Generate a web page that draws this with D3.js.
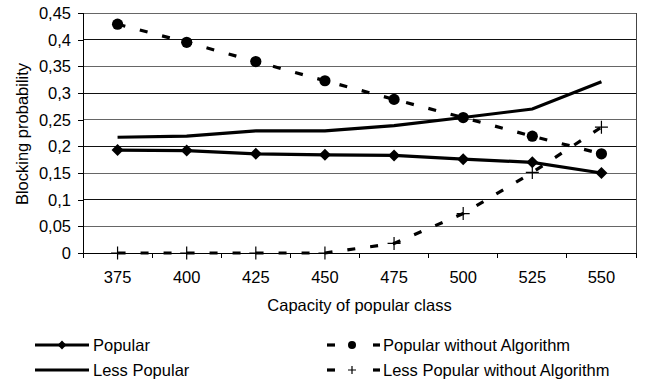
<!DOCTYPE html>
<html>
<head>
<meta charset="utf-8">
<script src="https://cdn.jsdelivr.net/npm/d3@7"></script>
<style>
  body { margin: 0; background: #fff; }
  svg { display: block; }
  text { font-family: "Liberation Sans", Arial, sans-serif; font-size: 16.5px; fill: #000; }
</style>
</head>
<body>
<svg id="chart" width="645" height="385"></svg>
<script>
// Capacity of the popular class
const capacities = [375, 400, 425, 450, 475, 500, 525, 550];

// Blocking probability per series
const popular = [0.193, 0.192, 0.186, 0.184, 0.183, 0.176, 0.170, 0.150];
const lessPopular = [0.217, 0.219, 0.229, 0.229, 0.239, 0.254, 0.270, 0.321];
const popularNoAlg = [0.429, 0.395, 0.359, 0.323, 0.288, 0.254, 0.219, 0.186];
const lessPopularNoAlg = [0, 0, 0, 0, 0.018, 0.074, 0.151, 0.236];

const yTicks = [0, 0.05, 0.1, 0.15, 0.2, 0.25, 0.3, 0.35, 0.4, 0.45];

const series = [
  { name: "Popular", values: popular, dashed: false, marker: "diamond" },
  { name: "Less Popular", values: lessPopular, dashed: false, marker: null },
  { name: "Popular without Algorithm", values: popularNoAlg, dashed: true, marker: "circle" },
  { name: "Less Popular without Algorithm", values: lessPopularNoAlg, dashed: true, marker: "plus" }
];

const svg = d3.select("#chart");
const m = { left: 83, right: 636, top: 13, bottom: 253 };

const x = d3.scaleBand().domain(capacities).range([m.left, m.right]);
const y = d3.scaleLinear().domain([0, 0.45]).range([m.bottom, m.top]);
const fmt = v => String(+v.toFixed(2)).replace(".", ",");

// Horizontal gridlines
svg.append("g").selectAll("line").data(yTicks.filter(d => d > 0)).join("line")
  .attr("x1", m.left).attr("x2", m.right)
  .attr("y1", d => y(d)).attr("y2", d => y(d))
  .attr("stroke", (d, i) => i % 2 ? "#111" : "#666").attr("stroke-width", 1)
  .attr("shape-rendering", "crispEdges");

// Right frame
svg.append("line").attr("x1", m.right).attr("x2", m.right)
  .attr("y1", m.top).attr("y2", m.bottom)
  .attr("stroke", "#444").attr("shape-rendering", "crispEdges");

// Y axis
const yAxis = svg.append("g").attr("transform", `translate(${m.left},0)`)
  .call(d3.axisLeft(y).tickValues(yTicks).tickFormat(fmt).tickSize(5).tickPadding(7));
yAxis.select(".domain").remove();
yAxis.append("line").attr("x1", 0).attr("x2", 0).attr("y1", m.top).attr("y2", m.bottom);
yAxis.selectAll("line").attr("stroke", "#000").attr("shape-rendering", "crispEdges");
yAxis.selectAll("text").attr("font-size", 16.5).attr("font-family", "Liberation Sans, Arial, sans-serif")
  .attr("dy", "0.34em");

// X axis with ticks between categories
const xAxis = svg.append("g").attr("transform", `translate(0,${m.bottom})`);
xAxis.append("line").attr("x1", m.left - 5).attr("x2", m.right)
  .attr("y1", 0).attr("y2", 0).attr("stroke", "#000").attr("shape-rendering", "crispEdges");
const bounds = capacities.map(c => x(c)).concat([m.right]);
xAxis.selectAll("line.tk").data(bounds).join("line").attr("class", "tk")
  .attr("x1", d => d).attr("x2", d => d).attr("y1", 0).attr("y2", 5)
  .attr("stroke", "#000").attr("shape-rendering", "crispEdges");
xAxis.selectAll("text").data(capacities).join("text")
  .attr("x", d => x(d) + x.bandwidth() / 2).attr("y", 29.5)
  .attr("text-anchor", "middle").text(d => d);

// Axis titles
svg.append("text").attr("x", (m.left + m.right) / 2).attr("y", 311)
  .attr("text-anchor", "middle").text("Capacity of popular class");
svg.append("text").attr("transform", `translate(27.5,${(m.top + m.bottom) / 2 + 1}) rotate(-90)`)
  .attr("text-anchor", "middle").text("Blocking probability");

const cx = c => x(c) + x.bandwidth() / 2;
const line = d3.line().x((d, i) => cx(capacities[i])).y(d => y(d));

function drawMarker(g, type, px, py, s) {
  if (type === "diamond") {
    g.append("path").attr("d", `M${px},${py - s}L${px + s},${py}L${px},${py + s}L${px - s},${py}Z`).attr("fill", "#000");
  } else if (type === "circle") {
    g.append("circle").attr("cx", px).attr("cy", py).attr("r", s).attr("fill", "#000");
  } else if (type === "plus") {
    g.append("path").attr("d", `M${px - s},${py}H${px + s}M${px},${py - s}V${py + s}`)
      .attr("stroke", "#000").attr("stroke-width", 1.2).attr("fill", "none");
  }
}

// Series lines and markers
series.forEach(s => {
  svg.append("path").datum(s.values).attr("d", line)
    .attr("fill", "none").attr("stroke", "#000").attr("stroke-width", 3.2)
    .attr("stroke-dasharray", s.dashed ? "8,15" : null);
  const g = svg.append("g");
  s.values.forEach((v, i) => {
    if (s.marker) drawMarker(g, s.marker, cx(capacities[i]), y(v),
      s.marker === "plus" ? 6.5 : s.marker === "circle" ? 5.6 : 6);
  });
});

// Legend
const legendPos = [[35, 345], [35, 370], [327, 345], [327, 370]];
series.forEach((s, i) => {
  const [lx, ly] = legendPos[i];
  const g = svg.append("g");
  if (s.dashed) {
    g.append("line").attr("x1", lx).attr("x2", lx + 8).attr("y1", ly).attr("y2", ly)
      .attr("stroke", "#000").attr("stroke-width", 3.2);
    g.append("line").attr("x1", lx + 46).attr("x2", lx + 53).attr("y1", ly).attr("y2", ly)
      .attr("stroke", "#000").attr("stroke-width", 3.2);
    drawMarker(g, s.marker, lx + 25, ly, 4);
    g.append("text").attr("x", lx + 56).attr("y", ly + 6).text(s.name);
  } else {
    g.append("line").attr("x1", lx).attr("x2", lx + 54).attr("y1", ly).attr("y2", ly)
      .attr("stroke", "#000").attr("stroke-width", 3.2);
    if (s.marker) drawMarker(g, s.marker, lx + 27, ly, 4.4);
    g.append("text").attr("x", lx + 58).attr("y", ly + 6).text(s.name);
  }
});
</script>
</body>
</html>
